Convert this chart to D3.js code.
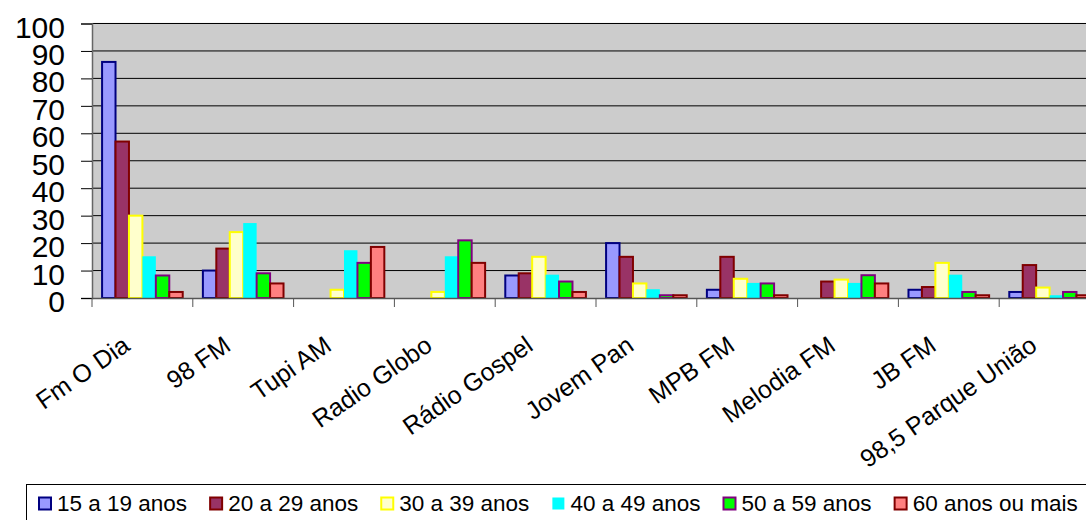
<!DOCTYPE html>
<html>
<head>
<meta charset="utf-8">
<script src="https://cdn.jsdelivr.net/npm/d3@7"></script>
<style>
  html, body { margin: 0; padding: 0; background: #fff; }
  svg { display: block; font-family: "Liberation Sans", Arial, sans-serif; }
</style>
</head>
<body>
<svg id="chart" width="1086" height="520"></svg>
<script>
const categories = ["Fm O Dia", "98 FM", "Tupi AM", "Radio Globo", "Rádio Gospel", "Jovem Pan", "MPB FM", "Melodia FM", "JB FM", "98,5 Parque União"];
const seriesNames = ["15 a 19 anos", "20 a 29 anos", "30 a 39 anos", "40 a 49 anos", "50 a 59 anos", "60 anos ou mais"];
const s15a19 = [86, 10, 0, 0, 8.2, 20, 3, 0, 3, 2.2];
const s20a29 = [57, 18, 0, 0, 9, 15, 15, 6, 4, 12];
const s30a39 = [30, 24, 3, 2.2, 15, 5.3, 7, 6.7, 12.8, 3.8];
const s40a49 = [15.2, 27.3, 17.4, 15.2, 8.5, 3.2, 5.5, 5.5, 8.5, 1];
const s50a59 = [8.2, 9, 12.8, 21, 6, 1, 5.3, 8.3, 2.2, 2.2];
const s60mais = [2.2, 5.3, 18.6, 12.8, 2.2, 1, 1, 5.3, 1, 1];
const yTicks = [0, 10, 20, 30, 40, 50, 60, 70, 80, 90, 100];

const seriesValues = [s15a19, s20a29, s30a39, s40a49, s50a59, s60mais];
const fills = ["#9999FF", "#993366", "#FFFFCC", "#00FFFF", "#00FF00", "#FF8080"];
const strokes = ["#000080", "#800000", "#FFFF00", "none", "#800080", "#800000"];

const svg = d3.select("#chart");
const left = 92, catW = 100.8;
const right = left + catW * categories.length;
const yTop = 23.5, yBot = 298;

const x = d3.scaleBand().domain(categories).range([left, right]).paddingInner(0).paddingOuter(0);
const barW = catW / 7.5;
const xs = d3.scaleBand().domain(seriesNames).range([barW * 0.75, catW - barW * 0.75]).padding(0);
const y = d3.scaleLinear().domain([0, 100]).range([yBot, yTop]);

// plot background
svg.append("rect").attr("x", left).attr("y", yTop).attr("width", right - left).attr("height", yBot - yTop).attr("fill", "#CCCCCC");
svg.append("line").attr("x1", left).attr("x2", right).attr("y1", yTop - 0.5).attr("y2", yTop - 0.5).attr("stroke", "#eeeeee").attr("stroke-width", 1);

// gridlines
svg.append("g").selectAll("line").data(yTicks.filter(d => d > 0)).join("line")
  .attr("x1", left).attr("x2", right)
  .attr("y1", d => y(d)).attr("y2", d => y(d))
  .attr("stroke", "#000").attr("stroke-width", 1);

// bars
const gBars = svg.append("g");
seriesNames.forEach((s, si) => {
  const rows = categories.map((c, ci) => ({c, v: seriesValues[si][ci]})).filter(d => d.v > 0);
  gBars.append("g").selectAll("rect").data(rows).join("rect")
    .attr("x", d => x(d.c) + xs(s))
    .attr("width", xs.bandwidth())
    .attr("y", d => y(d.v))
    .attr("height", d => y(0) - y(d.v))
    .attr("fill", fills[si])
    .attr("stroke", strokes[si])
    .attr("stroke-width", strokes[si] === "none" ? 0 : 2);
});

// y axis
const yAxis = d3.axisLeft(y).tickValues(yTicks).tickSize(11).tickPadding(16).tickFormat(d3.format("d"));
const gy = svg.append("g").attr("transform", `translate(${left},0)`).call(yAxis);
gy.select(".domain").attr("stroke", "#666").attr("stroke-width", 1.5);
gy.selectAll(".tick line").attr("stroke", "#000");
gy.selectAll(".tick text").attr("font-size", 30).attr("fill", "#000").attr("dy", "0.45em")
  .attr("font-family", "'Liberation Sans', Arial, sans-serif");

// x axis
const xAxis = d3.axisBottom(x).tickSize(0).tickFormat("");
const gx = svg.append("g").attr("transform", `translate(0,${yBot})`).call(xAxis);
gx.select(".domain").attr("stroke", "#555").attr("stroke-width", 1.5);
gx.append("g").selectAll("line").data(d3.range(categories.length + 1)).join("line")
  .attr("x1", i => left + i * catW).attr("x2", i => left + i * catW)
  .attr("y1", 0).attr("y2", 9).attr("stroke", "#555").attr("stroke-width", 1);

// x labels
svg.append("g").selectAll("text").data(categories).join("text")
  .attr("transform", d => `translate(${x(d) + catW / 2 - 11},349) rotate(-35)`)
  .attr("text-anchor", "end")
  .attr("font-size", 25)
  .attr("fill", "#000")
  .text(d => d);

// legend
const lg = svg.append("g");
lg.append("rect").attr("x", 26.5).attr("y", 484.5).attr("width", 1100).attr("height", 60)
  .attr("fill", "#fff").attr("stroke", "#000").attr("stroke-width", 1);
let lx = 39;
seriesNames.forEach((s, si) => {
  lg.append("rect").attr("x", lx).attr("y", 497.5).attr("width", 12).attr("height", 12)
    .attr("fill", fills[si]).attr("stroke", strokes[si]).attr("stroke-width", strokes[si] === "none" ? 0 : 2);
  const t = lg.append("text").attr("x", lx + 18).attr("y", 511).attr("font-size", 22.5).attr("fill", "#000").text(s);
  lx = lx + 18 + t.node().getComputedTextLength() + 23;
});
</script>
</body>
</html>
